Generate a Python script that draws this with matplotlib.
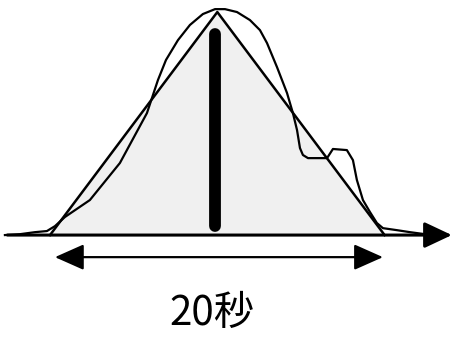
import matplotlib
matplotlib.use("Agg")
import matplotlib.pyplot as plt

# time axis in seconds (0 = peak), height relative to peak
triangle_t = [-10.3, -0.1, 10.1]
triangle_h = [0.0, 1.0, 0.0]

curve_t = [-13.05, -12.13, -11.22, -10.49, -10.0, -9.39, -7.87, -6.04, -4.39,
           -3.72, -3.23, -2.5, -1.77, -0.98, -0.24, 0.37, 1.10, 1.89, 2.5,
           2.93, 3.54, 4.15, 4.51, 4.76, 4.94, 5.12, 5.43, 6.59, 6.95, 7.80,
           8.17, 8.41, 8.78, 9.21, 9.63, 10.0, 10.85, 11.65, 12.56]
curve_h = [0.0, 0.004, 0.013, 0.018, 0.04, 0.081, 0.157, 0.323, 0.547,
           0.695, 0.785, 0.874, 0.942, 0.991, 1.013, 1.013, 1.0, 0.964, 0.919,
           0.861, 0.753, 0.637, 0.547, 0.471, 0.390, 0.359, 0.345, 0.345,
           0.386, 0.381, 0.336, 0.247, 0.157, 0.103, 0.054, 0.031, 0.022,
           0.013, 0.004]

peak_t = -0.25
peak_bar = [0.04, 0.90]

span_start = -10.0
span_end = 10.0
span_label = "20秒"

plt.rcParams['font.family'] = ['Noto Sans CJK JP', 'DejaVu Sans']
plt.rcParams['hatch.color'] = '#a0a0a0'
plt.rcParams['hatch.linewidth'] = 0.6


def main():
    fig = plt.figure(figsize=(4.52, 3.41), dpi=100)
    ax = fig.add_axes([0, 0, 1, 1])
    ax.set_xlim(-13.35, 14.21)
    ax.set_ylim(-0.475, 1.054)
    ax.axis('off')

    # stippled area inside the triangle
    ax.fill(triangle_t, triangle_h, facecolor='#f0f0f0', hatch='..',
            edgecolor='none', zorder=1)
    ax.plot(triangle_t, triangle_h, color='black', lw=1.8, zorder=3)
    ax.plot(curve_t, curve_h, color='black', lw=1.6, zorder=3)

    # thick bar at the peak
    ax.plot([peak_t, peak_t], peak_bar, color='black', lw=8.5,
            solid_capstyle='round', zorder=4)

    # horizontal axis with arrow
    ax.annotate('', xy=(14.2, 0), xytext=(-12.9, 0),
                arrowprops=dict(arrowstyle='-|>,head_length=1.7,head_width=0.8',
                                mutation_scale=10, color='black', lw=2.2,
                                shrinkA=0, shrinkB=0), zorder=5)

    # double arrow for the duration
    ax.annotate('', xy=(span_end, -0.099), xytext=(span_start, -0.099),
                arrowprops=dict(arrowstyle='<|-|>,head_length=1.8,head_width=0.8',
                                mutation_scale=10, color='black', lw=1.6,
                                shrinkA=0, shrinkB=0), zorder=5)

    ax.text(-0.45, -0.35, span_label, ha='center', va='center', fontsize=29,
            color='black')

    fig.savefig('out.png', dpi=100)


main()
